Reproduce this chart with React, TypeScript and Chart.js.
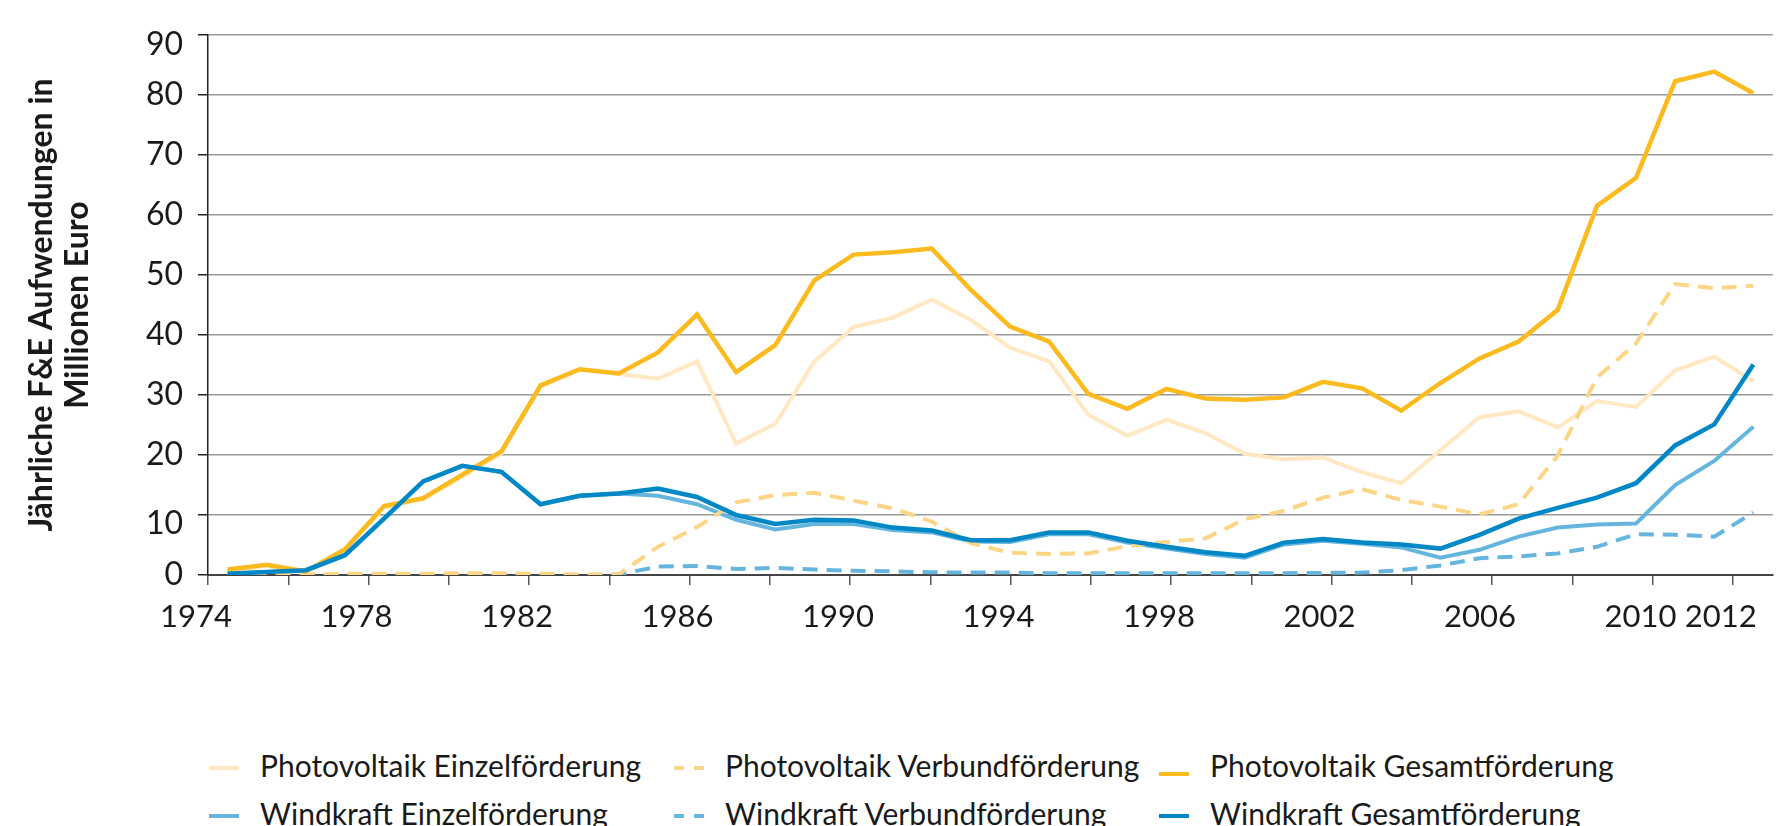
import React, { useEffect, useRef } from 'react';
import { Chart, registerables } from 'chart.js';

Chart.register(...registerables);

// ---------- data ----------
const years = [
  1974, 1975, 1976, 1977, 1978, 1979, 1980, 1981, 1982, 1983,
  1984, 1985, 1986, 1987, 1988, 1989, 1990, 1991, 1992, 1993,
  1994, 1995, 1996, 1997, 1998, 1999, 2000, 2001, 2002, 2003,
  2004, 2005, 2006, 2007, 2008, 2009, 2010, 2011, 2012, 2013,
];

const pvEinzel = [
  0.7, 1.5, 0.5, 4.1, 11.3, 12.6, 16.4, 20.3, 31.4, 34.2,
  33.5, 32.7, 35.6, 21.9, 25.2, 35.6, 41.3, 42.9, 45.9, 42.5,
  37.9, 35.6, 26.7, 23.2, 25.9, 23.6, 20.2, 19.3, 19.6, 17.1,
  15.3, 20.8, 26.3, 27.3, 24.6, 29.0, 28.0, 34.1, 36.4, 32.3,
];
const pvVerbund = [
  0.2, 0.2, 0.1, 0.2, 0.2, 0.2, 0.3, 0.3, 0.2, 0.1,
  0.1, 4.7, 8.0, 12.1, 13.3, 13.7, 12.4, 11.1, 8.9, 5.3,
  3.7, 3.5, 3.6, 4.8, 5.5, 6.1, 9.3, 10.7, 12.9, 14.3,
  12.5, 11.4, 10.1, 11.8, 19.9, 32.9, 38.6, 48.5, 47.8, 48.2,
];
const pvGesamt = [
  0.9, 1.7, 0.6, 4.3, 11.5, 12.8, 16.7, 20.6, 31.6, 34.3,
  33.6, 37.1, 43.4, 33.8, 38.3, 49.1, 53.4, 53.8, 54.4, 47.5,
  41.4, 38.9, 30.2, 27.7, 31.0, 29.4, 29.2, 29.6, 32.2, 31.1,
  27.4, 32.0, 36.1, 38.9, 44.2, 61.5, 66.2, 82.3, 83.9, 80.3,
];
const windEinzel = [
  0.2, 0.5, 0.7, 3.3, 9.4, 15.6, 18.2, 17.2, 11.8, 13.2,
  13.6, 13.2, 11.8, 9.2, 7.6, 8.5, 8.5, 7.5, 7.1, 5.6,
  5.5, 6.8, 6.8, 5.4, 4.4, 3.5, 2.9, 5.1, 5.7, 5.2,
  4.6, 2.9, 4.2, 6.4, 7.9, 8.4, 8.6, 15.0, 19.0, 24.7,
];
const windVerbund = [
  0, 0, 0, 0, 0, 0, 0, 0, 0, 0,
  0.1, 1.4, 1.5, 1.0, 1.2, 0.9, 0.7, 0.6, 0.45, 0.4,
  0.4, 0.3, 0.3, 0.3, 0.3, 0.3, 0.3, 0.3, 0.35, 0.4,
  0.8, 1.6, 2.8, 3.1, 3.6, 4.7, 6.8, 6.7, 6.4, 10.4,
];
const windGesamt = [
  0.2, 0.5, 0.8, 3.3, 9.4, 15.6, 18.2, 17.2, 11.8, 13.2,
  13.6, 14.4, 13.0, 10.0, 8.5, 9.2, 9.1, 7.9, 7.4, 5.8,
  5.8, 7.1, 7.1, 5.7, 4.7, 3.8, 3.2, 5.4, 6.0, 5.4,
  5.1, 4.4, 6.7, 9.4, 11.2, 12.9, 15.3, 21.6, 25.1, 35.1,
];

const xTickYears = [
  1974, 1976, 1978, 1980, 1982, 1984, 1986, 1988, 1990, 1992,
  1994, 1996, 1998, 2000, 2002, 2004, 2006, 2008, 2010, 2012,
];
const xTickLabels = ['1974', '1978', '1982', '1986', '1990', '1994', '1998', '2002', '2006', '2010', '2012'];
const yTicks = [0, 10, 20, 30, 40, 50, 60, 70, 80, 90];
const yTitle = ['Jährliche F&E Aufwendungen in', 'Millionen Euro'];

// ---------- styles ----------
const FONT = 'Lato, "Noto Sans", sans-serif';
const TEXT = '#1a1a1a';

type Series = {
  label: string;
  data: number[];
  color: string;
  dashed: boolean;
  width: number;
  order: number;
  swatchDrop?: number;
};

const seriesList: Series[] = [
  { label: 'Photovoltaik Einzelförderung', data: pvEinzel, color: '#FFE8C2', dashed: false, width: 4, order: 5 },
  { label: 'Photovoltaik Verbundförderung', data: pvVerbund, color: '#FDD587', dashed: true, width: 4, order: 2 },
  { label: 'Photovoltaik Gesamtförderung', data: pvGesamt, color: '#FBBA1E', dashed: false, width: 4.5, order: 1, swatchDrop: 6 },
  { label: 'Windkraft Einzelförderung', data: windEinzel, color: '#66B5DF', dashed: false, width: 4, order: 4 },
  { label: 'Windkraft Verbundförderung', data: windVerbund, color: '#66B5DF', dashed: true, width: 4, order: 3 },
  { label: 'Windkraft Gesamtförderung', data: windGesamt, color: '#0088C6', dashed: false, width: 4.5, order: 0 },
];

const yLabelNudge: Record<number, number> = { 90: 10, 10: 9 };

const yLabelPlugin = {
  id: 'yLabels',
  afterDraw(chart: any) {
    const s = chart.scales.y;
    const ctx = chart.ctx;
    ctx.save();
    ctx.font = `32px ${FONT}`;
    ctx.fillStyle = TEXT;
    ctx.textAlign = 'right';
    ctx.textBaseline = 'middle';
    for (const t of s.ticks) {
      const y = s.getPixelForValue(t.value) + (yLabelNudge[t.value] || 0);
      ctx.fillText(String(t.value), s.right - 25, y);
    }
    ctx.restore();
  },
};

function Legend() {
  const colX = [209, 674, 1159];
  const rowY = [768, 816];
  return (
    <>
      {seriesList.map((s, i) => {
        const col = i % 3;
        const row = Math.floor(i / 3);
        const x = colX[col];
        const cy = rowY[row];
        const sy = cy - 2 + (s.swatchDrop || 0);
        return (
          <React.Fragment key={s.label}>
            {s.dashed ? (
              <>
                <div style={{ position: 'absolute', left: x, top: sy, width: 10, height: 4, background: s.color }} />
                <div style={{ position: 'absolute', left: x + 20, top: sy, width: 10, height: 4, background: s.color }} />
              </>
            ) : (
              <div style={{ position: 'absolute', left: x, top: sy, width: 30, height: 4, background: s.color }} />
            )}
            <div
              style={{
                position: 'absolute',
                left: x + 51,
                top: cy - 18.5,
                fontFamily: FONT,
                fontSize: 30,
                lineHeight: '30px',
                color: TEXT,
                whiteSpace: 'nowrap',
              }}
            >
              {s.label}
            </div>
          </React.Fragment>
        );
      })}
    </>
  );
}

export default function App() {
  const canvasRef = useRef<HTMLCanvasElement | null>(null);

  useEffect(() => {
    const canvas = canvasRef.current;
    if (!canvas) return;
    const datasets = seriesList.map((s) => ({
      label: s.label,
      data: s.data,
      borderColor: s.color,
      backgroundColor: s.color,
      borderWidth: s.width,
      borderDash: s.dashed ? [15, 9] : [],
      pointRadius: 0,
      tension: 0,
      fill: false,
      order: s.order,
      xAxisID: 'x',
      yAxisID: 'y',
    }));

    const chart = new Chart(canvas, {
      type: 'line',
      data: { labels: years.map(String), datasets },
      options: {
        animation: false,
        responsive: false,
        maintainAspectRatio: false,
        devicePixelRatio: 1,
        layout: { padding: { top: 35, left: 0, right: 0, bottom: 0 } },
        plugins: { legend: { display: false }, tooltip: { enabled: false } },
        scales: {
          x: { type: 'category', display: false, offset: true },
          xt: {
            type: 'linear',
            position: 'bottom',
            min: 1974,
            max: 2013,
            afterBuildTicks: (s: any) => {
              s.ticks = xTickYears.map((v) => ({ value: v }));
            },
            afterFit: (s: any) => {
              s.height = 85;
            },
            grid: { drawOnChartArea: false, drawTicks: true, tickLength: 10, tickColor: '#555', lineWidth: 1.5 },
            border: { display: true, color: '#444', width: 2 },
            ticks: {
              autoSkip: false,
              maxRotation: 0,
              minRotation: 0,
              labelOffset: -12,
              padding: 13,
              color: TEXT,
              font: { family: FONT, size: 31 },
              callback: (v: any) => (xTickLabels.includes(String(v)) ? String(v) : ''),
            },
          },
          y: {
            type: 'linear',
            position: 'left',
            min: 0,
            max: 90,
            afterBuildTicks: (s: any) => {
              s.ticks = yTicks.map((v) => ({ value: v }));
            },
            afterFit: (s: any) => {
              s.width = 208;
            },
            grid: {
              color: (c: any) => (c.tick && c.tick.value === 0 ? '#444' : '#9a9a9a'),
              lineWidth: 1.5,
              drawTicks: true,
              tickLength: 10,
              tickColor: '#222',
            },
            border: { color: '#222', width: 1.5 },
            ticks: { display: false },
            title: {
              display: true,
              text: yTitle,
              color: TEXT,
              font: { family: FONT, size: 32, weight: 'bold', lineHeight: 1.11 },
              padding: { top: 24, bottom: 0 },
            },
          },
        },
      } as any,
      plugins: [yLabelPlugin],
    });
    return () => chart.destroy();
  }, []);

  return (
    <div
      style={{
        position: 'fixed',
        left: 0,
        top: 0,
        width: 1781,
        height: 826,
        overflow: 'hidden',
        background: '#ffffff',
      }}
    >
      <canvas
        ref={canvasRef}
        width={1782}
        height={660}
        style={{ position: 'absolute', left: 0, top: 0, width: 1782, height: 660 }}
      />
      <Legend />
    </div>
  );
}
